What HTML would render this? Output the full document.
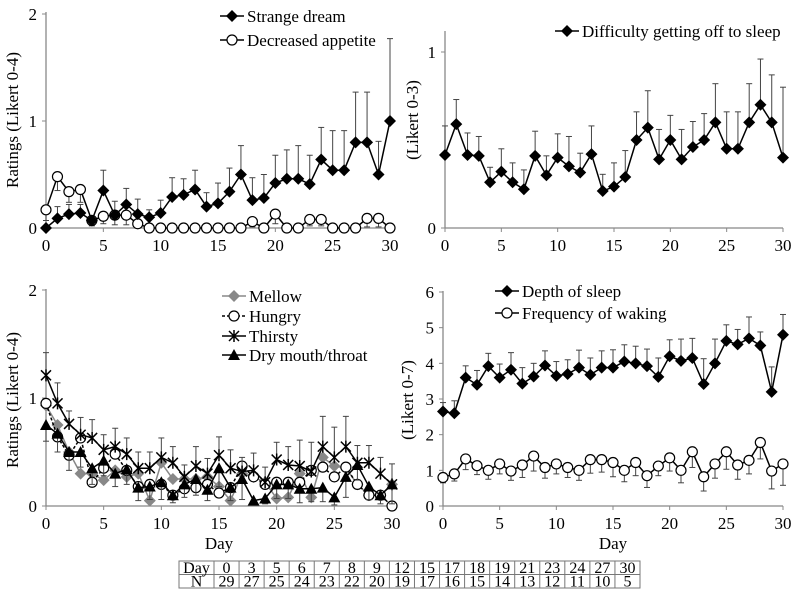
<!DOCTYPE html>
<html><head><meta charset="utf-8"><style>
body{margin:0;background:#fff;}
svg{display:block;font-family:"Liberation Serif",serif;}
</style></head><body>
<svg id="c" width="800" height="596" viewBox="0 0 800 596" xmlns="http://www.w3.org/2000/svg"></svg>
<script>
const days=[0,1,2,3,4,5,6,7,8,9,10,11,12,13,14,15,16,17,18,19,20,21,22,23,24,25,26,27,28,29,30];
// Panel A
const dream=[0,0.09,0.13,0.14,0.07,0.35,0.12,0.22,0.13,0.1,0.14,0.29,0.31,0.36,0.2,0.23,0.34,0.5,0.26,0.28,0.42,0.46,0.46,0.41,0.64,0.54,0.54,0.8,0.8,0.5,1.0];
const dreamTop=[0,0.2,0.22,0.22,0.1,0.54,0.25,0.37,0.27,0.17,0.26,0.47,0.46,0.54,0.33,0.42,0.56,0.77,0.47,0.5,0.68,0.73,0.77,0.68,0.94,0.91,0.91,1.27,1.27,0.81,1.77];
const appetite=[0.17,0.48,0.34,0.36,0.07,0.11,0.12,0.12,0.04,0,0,0,0,0,0,0,0,0,0.06,0,0.13,0,0,0.08,0.08,0,0,0,0.09,0.09,0];
const appetiteLow=[0.07,0.35,0.24,0.24,0.02,0.04,0.03,0.03,0.01,0,0,0,0,0,0,0,0,0,0.01,0,0.04,0,0,0.02,0.02,0,0,0,0.01,0.01,0];
// Panel B
const difficulty=[0.415,0.59,0.415,0.41,0.26,0.32,0.26,0.22,0.41,0.30,0.40,0.35,0.315,0.42,0.21,0.235,0.29,0.50,0.57,0.39,0.50,0.39,0.46,0.50,0.60,0.45,0.45,0.60,0.70,0.60,0.40];
const difficultyTop=[0.58,0.73,0.54,0.52,0.345,0.45,0.37,0.33,0.55,0.41,0.535,0.52,0.425,0.58,0.305,0.37,0.44,0.66,0.78,0.56,0.64,0.56,0.605,0.65,0.82,0.66,0.66,0.82,0.96,0.87,0.80];
// Panel C
const mellow=[0.93,0.75,0.5,0.3,0.3,0.24,0.33,0.27,0.3,0.05,0.4,0.25,0.25,0.25,0.27,0.18,0.05,0.3,0.27,0.22,0.07,0.08,0.3,0.08,0.45,0.37,0.35,0.2,0.1,0.1,0.2];
const hungry=[0.95,0.64,0.47,0.63,0.22,0.35,0.48,0.33,0.18,0.2,0.2,0.1,0.16,0.17,0.2,0.12,0.17,0.37,0.27,0.2,0.22,0.22,0.22,0.33,0.36,0.27,0.36,0.2,0.1,0.1,0];
const thirsty=[1.21,0.95,0.76,0.66,0.63,0.52,0.55,0.48,0.35,0.35,0.45,0.4,0.27,0.37,0.3,0.47,0.35,0.32,0.33,0.22,0.43,0.38,0.37,0.32,0.55,0.45,0.55,0.4,0.4,0.3,0.2];
const thirstyTop=[1.42,1.14,0.88,0.82,0.8,0.66,0.72,0.63,0.5,0.5,0.63,0.55,0.38,0.55,0.44,0.64,0.52,0.45,0.49,0.36,0.59,0.55,0.61,0.59,0.83,0.73,0.83,0.56,0.56,0.45,0.39];
const dry=[0.75,0.67,0.5,0.5,0.35,0.42,0.3,0.34,0.17,0.18,0.22,0.1,0.2,0.25,0.15,0.35,0.17,0.25,0.05,0.07,0.2,0.2,0.16,0.16,0.17,0.08,0.27,0.38,0.18,0.1,0.2];
const dryLow=[0.6,0.5,0.33,0.36,0.2,0.28,0.18,0.2,0.05,0.06,0.06,0.03,0.08,0.1,0.05,0.18,0.05,0.06,0.01,0.02,0.07,0.07,0.03,0.04,0.04,0.01,0.08,0.24,0.06,0.02,0.02];
// Panel D
const depth=[2.65,2.6,3.6,3.4,3.92,3.6,3.82,3.43,3.63,3.94,3.65,3.7,3.88,3.68,3.88,3.88,4.05,4.0,3.92,3.62,4.2,4.07,4.15,3.42,4.0,4.63,4.53,4.7,4.5,3.2,4.8];
const depthTop=[2.9,2.95,3.93,3.8,4.28,3.98,4.3,3.88,4.0,4.35,4.05,4.1,4.37,4.15,4.35,4.38,4.52,4.48,4.4,4.15,4.66,4.68,4.7,4.13,4.68,5.08,4.95,5.3,4.88,3.9,5.37];
const waking=[0.8,0.9,1.32,1.13,1.0,1.18,0.98,1.15,1.4,1.08,1.18,1.08,1.0,1.3,1.3,1.22,1.0,1.22,0.85,1.12,1.35,1.0,1.52,0.82,1.18,1.52,1.15,1.28,1.78,0.98,1.18];
const wakingLow=[0.65,0.7,1.02,0.88,0.75,0.9,0.72,0.8,0.98,0.78,0.9,0.8,0.72,0.92,0.95,0.82,0.68,0.85,0.52,0.85,0.98,0.65,1.08,0.42,0.78,1.03,0.75,0.9,1.32,0.48,0.58];
const tableDays=["0","3","5","6","7","8","9","12","15","17","18","19","21","23","24","27","30"];
const tableN=["29","27","25","24","23","22","20","19","17","16","15","14","13","12","11","10","5"];

const svg=document.getElementById('c');
const NS="http://www.w3.org/2000/svg";
function el(tag,attrs,parent){const e=document.createElementNS(NS,tag);for(const k in attrs)e.setAttribute(k,attrs[k]);(parent||svg).appendChild(e);return e;}
function txt(s,x,y,attrs,parent){const t=el('text',Object.assign({x:x,y:y,'font-size':17,fill:'#000'},attrs||{}),parent);t.textContent=s;return t;}

function panel(name,cfg){
  const g=el('g',{});
  
  
  const X=d=>cfg.x0+(cfg.x1-cfg.x0)*d/30;
  const Y=v=>cfg.y0-(cfg.y0-cfg.yTop)*v/cfg.ymax;
  const ax=el('g',{},g);
  
  
  el('line',{x1:cfg.x0,y1:cfg.y0,x2:cfg.x1,y2:cfg.y0,stroke:'#888','stroke-width':1.3},ax);
  el('line',{x1:cfg.x0,y1:cfg.y0,x2:cfg.x0,y2:cfg.axTop,stroke:'#888','stroke-width':1.3},ax);
  cfg.yticks.forEach(v=>{
    el('line',{x1:cfg.x0-4,y1:Y(v),x2:cfg.x0,y2:Y(v),stroke:'#888'},ax);
    const t=txt(String(v),cfg.x0-9,Y(v)+6,{'text-anchor':'end'},ax);
    
    
  });
  [0,5,10,15,20,25,30].forEach(d=>{
    el('line',{x1:X(d),y1:cfg.y0,x2:X(d),y2:cfg.y0+4,stroke:'#888'},ax);
    const t=txt(String(d),X(d),cfg.y0+23,{'text-anchor':'middle'},ax);
    
    
  });
  const yl=txt(cfg.ylabel,0,0,{'text-anchor':'middle',transform:`translate(${cfg.ylx},${cfg.yly}) rotate(-90)`},g);
  
  
  if(cfg.xlabel){const xl=txt('Day',(cfg.x0+cfg.x1)/2,cfg.y0+43,{'text-anchor':'middle'},g);
    
    }
  cfg.series.forEach(s=>{
    const sg=el('g',{},g);
    
    
    if(s.err){days.forEach((d,i)=>{
      const a=Y(s.vals[i]),b=Y(s.err[i]);
      el('line',{x1:X(d),y1:a,x2:X(d),y2:b,stroke:s.ecol||'#444','stroke-width':1},sg);
      el('line',{x1:X(d)-3,y1:b,x2:X(d)+3,y2:b,stroke:s.ecol||'#444','stroke-width':1},sg);
    });}
    el('polyline',{points:days.map((d,i)=>X(d)+','+Y(s.vals[i])).join(' '),fill:'none',stroke:s.col,'stroke-width':1.5,'stroke-dasharray':s.dash||'none'},sg);
    days.forEach((d,i)=>{const m=marker(s.mk,X(d),Y(s.vals[i]),s.col,sg);
      
      });
  });
  cfg.legend.forEach((l,i)=>{
    const lg=el('g',{},g);
    
    
    const ly=l.y;
    el('line',{x1:l.x,y1:ly,x2:l.x+24,y2:ly,stroke:l.col,'stroke-width':1.5,'stroke-dasharray':l.dash||'none'},lg);
    marker(l.mk,l.x+12,ly,l.col,lg);
    txt(l.label,l.x+27,ly+6,{},lg);
  });
}
function marker(mk,x,y,col,p){
  if(mk==='diamond')return el('path',{d:`M${x},${y-6}L${x+6},${y}L${x},${y+6}L${x-6},${y}Z`,fill:col},p);
  if(mk==='circle')return el('circle',{cx:x,cy:y,r:5,fill:'#fff',stroke:'#000','stroke-width':1.2},p);
  if(mk==='tri')return el('path',{d:`M${x},${y-6}L${x+6},${y+5}L${x-6},${y+5}Z`,fill:col},p);
  if(mk==='star')return el('path',{d:`M${x-5},${y-5}L${x+5},${y+5}M${x+5},${y-5}L${x-5},${y+5}M${x},${y-6}L${x},${y+6}`,stroke:col,'stroke-width':1.5},p);
}
panel('panel-dreams-appetite',{x0:46,x1:390,y0:228,yTop:14,axTop:12,ymax:2,yticks:[0,1,2],ylabel:'Ratings (Likert 0-4)',ylx:18,yly:120,
  series:[{id:'decreased-appetite',vals:appetite,err:appetiteLow,mk:'circle',col:'#000'},{id:'strange-dream',vals:dream,err:dreamTop,mk:'diamond',col:'#000'}],
  legend:[{x:220,y:16,mk:'diamond',col:'#000',label:'Strange dream'},{x:220,y:40,mk:'circle',col:'#000',label:'Decreased appetite'}]});
panel('panel-difficulty-sleep',{x0:445,x1:783,y0:228,yTop:52,axTop:31,ymax:1,yticks:[0,1],ylabel:'(Likert 0-3)',ylx:418,yly:120,
  series:[{id:'difficulty-sleep',vals:difficulty,err:difficultyTop,mk:'diamond',col:'#000'}],
  legend:[{x:555,y:31,mk:'diamond',col:'#000',label:'Difficulty getting off to sleep'}]});
panel('panel-appetite-thirst',{x0:46,x1:392,y0:506,yTop:290,axTop:289,ymax:2,yticks:[0,1,2],ylabel:'Ratings (Likert 0-4)',ylx:18,yly:400,xlabel:true,
  series:[{id:'mellow',vals:mellow,mk:'diamond',col:'#888'},{id:'hungry',vals:hungry,mk:'circle',col:'#000',dash:'3,2'},{id:'thirsty',vals:thirsty,err:thirstyTop,mk:'star',col:'#000'},{id:'dry-mouth',vals:dry,err:dryLow,mk:'tri',col:'#000'}],
  legend:[{x:222,y:296,mk:'diamond',col:'#888',label:'Mellow'},{x:222,y:316,mk:'circle',col:'#000',dash:'3,2',label:'Hungry'},{x:222,y:336,mk:'star',col:'#000',label:'Thirsty'},{x:222,y:355,mk:'tri',col:'#000',label:'Dry mouth/throat'}]});
panel('panel-sleep-quality',{x0:443,x1:783,y0:506,yTop:292,axTop:291,ymax:6,yticks:[0,1,2,3,4,5,6],ylabel:'(Likert 0-7)',ylx:413,yly:400,xlabel:true,
  series:[{id:'depth-of-sleep',vals:depth,err:depthTop,mk:'diamond',col:'#000'},{id:'frequency-of-waking',vals:waking,err:wakingLow,mk:'circle',col:'#000'}],
  legend:[{x:495,y:291,mk:'diamond',col:'#000',label:'Depth of sleep'},{x:495,y:313,mk:'circle',col:'#000',label:'Frequency of waking'}]});
// table
const tg=el('g',{});


const tx0=179,dw=35,cw=(640-214)/17,ty0=561,rh=13.5;
el('rect',{x:tx0,y:ty0,width:640-tx0,height:rh*2,fill:'none',stroke:'#777'},tg);
el('line',{x1:tx0,y1:ty0+rh,x2:640,y2:ty0+rh,stroke:'#777'},tg);
el('line',{x1:214,y1:ty0,x2:214,y2:ty0+2*rh,stroke:'#777'},tg);
txt('Day',tx0+dw/2,ty0+12,{'text-anchor':'middle','font-size':16},tg);
txt('N',tx0+dw/2,ty0+rh+12,{'text-anchor':'middle','font-size':16},tg);
tableDays.forEach((d,i)=>{
  const x=214+cw*i;
  if(i>0)el('line',{x1:x,y1:ty0,x2:x,y2:ty0+2*rh,stroke:'#777'},tg);
  txt(d,x+cw/2,ty0+12,{'text-anchor':'middle','font-size':16},tg);
  txt(tableN[i],x+cw/2,ty0+rh+12,{'text-anchor':'middle','font-size':16},tg);
});
</script>
</body></html>
